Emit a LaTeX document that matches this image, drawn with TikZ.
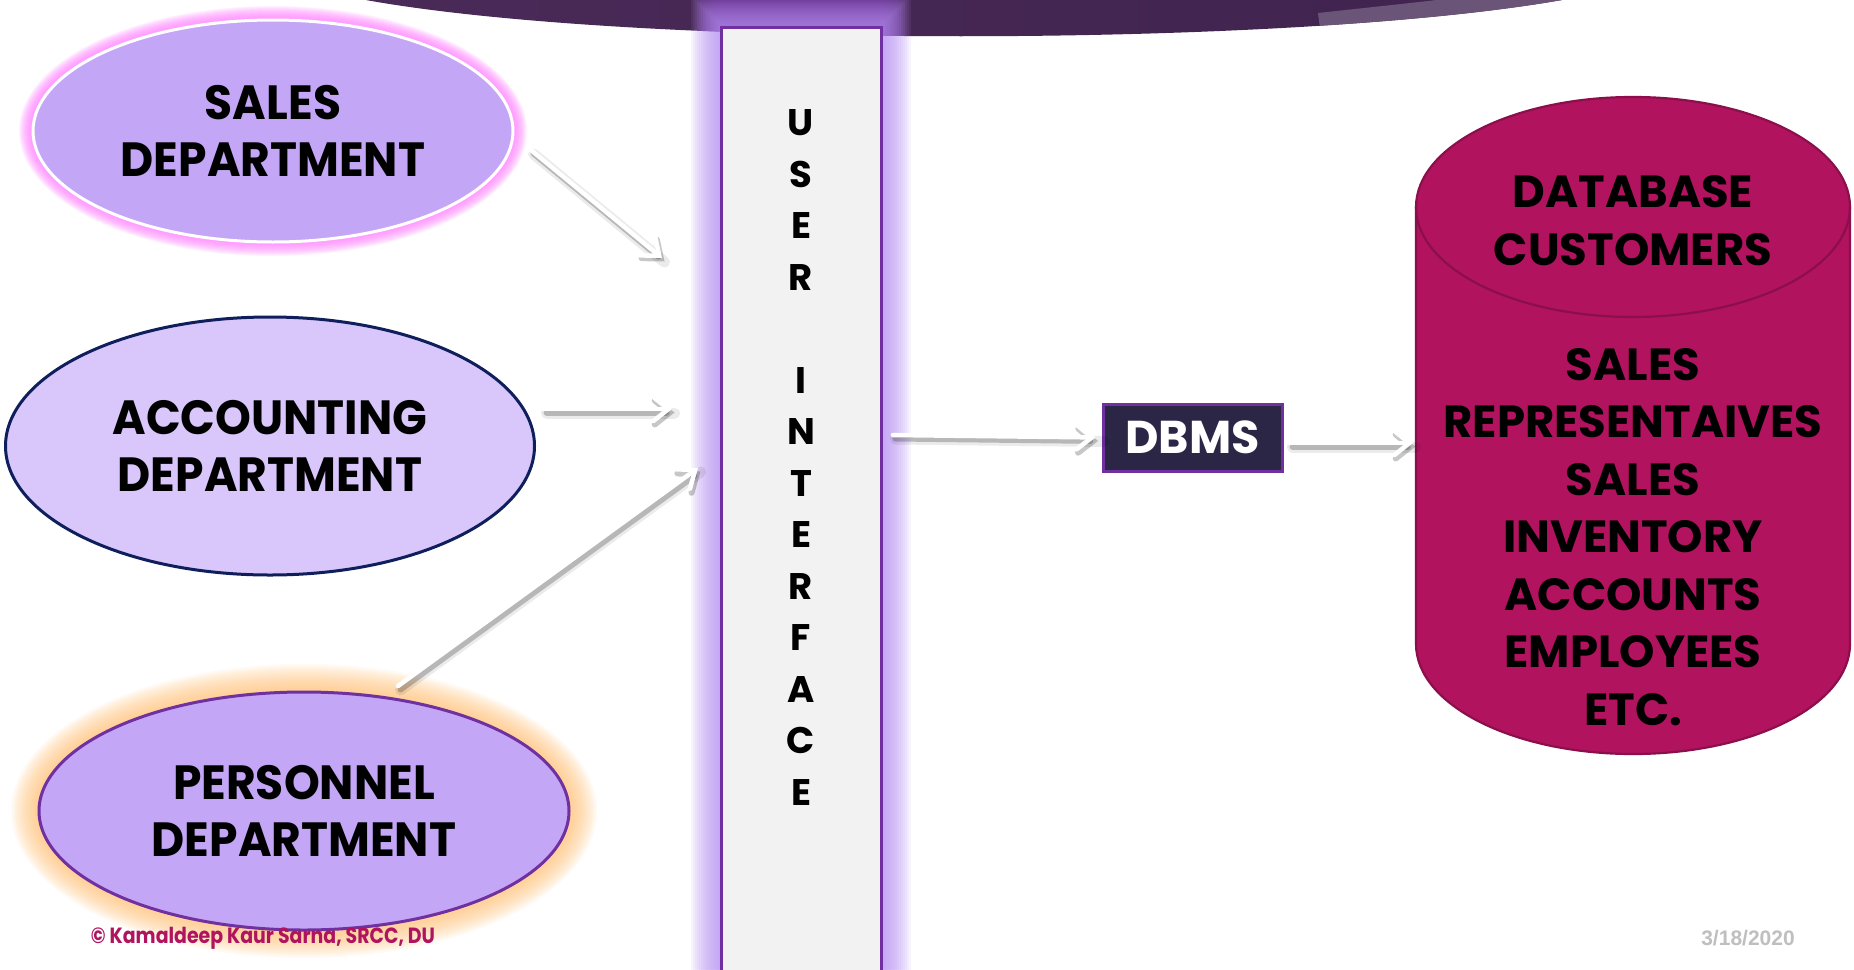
\documentclass[tikz,border=0pt]{standalone}
\usepackage{fontspec}
\usetikzlibrary{shapes.geometric,arrows.meta}
\newfontfamily\deptfont[FakeStretch=0.95]{Poppins}
\newfontfamily\dbfont{Poppins}
\newfontfamily\footfont[FakeStretch=0.86]{Poppins}
\newfontfamily\datefont{Liberation Sans}

\definecolor{bannerL}{HTML}{4A2A58}
\definecolor{bannerM}{HTML}{6E3262}
\definecolor{bannerR}{HTML}{40234E}
\definecolor{bannerLight}{HTML}{6A5579}
\definecolor{lav}{HTML}{C3A6F5}
\definecolor{lavlight}{HTML}{D9C6FB}
\definecolor{navy}{HTML}{0F1F5C}
\definecolor{uipurple}{HTML}{7030A0}
\definecolor{uigray}{HTML}{F2F2F2}
\definecolor{glowlav}{HTML}{B890F5}
\definecolor{glowpink}{HTML}{FF80FF}
\definecolor{gloworange}{HTML}{FFC070}
\definecolor{dbmsfill}{HTML}{2B2546}
\definecolor{dbfill}{HTML}{B2135F}
\definecolor{dbedge}{HTML}{8A0F4B}
\definecolor{footred}{HTML}{B0145E}
\definecolor{dategray}{HTML}{BFBFBF}

\begin{document}
\begin{tikzpicture}[x=1pt,y=-1pt,
  dept/.style={ellipse, inner sep=0pt, line width=3pt, align=center,
    font=\deptfont\bfseries\fontsize{48}{57}\selectfont},
  uibar/.style={rectangle, draw=uipurple, fill=uigray, line width=3pt, inner sep=0pt},
  uiletters/.style={align=center, inner sep=0pt,
    font=\dbfont\bfseries\fontsize{37}{51.5}\selectfont},
  dbmsbox/.style={rectangle, draw=uipurple, fill=dbmsfill, line width=3pt,
    text=white, inner sep=0pt, font=\dbfont\bfseries\fontsize{46}{50}\selectfont},
  dblabel/.style={align=center, inner sep=0pt,
    font=\dbfont\bfseries\fontsize{45}{57.5}\selectfont},
  flow/.style={draw=white, line width=4.5pt, line cap=round,
    -{Straight Barb[length=15pt,width=24pt,line cap=round]}},
  flowshade/.style={draw=black, opacity=0.22, line width=6pt, line cap=round,
    -{Straight Barb[length=15pt,width=24pt,line cap=round]},
    transform canvas={shift={(2.5pt,-3.5pt)}}},
  flowhaze/.style={draw=black, opacity=0.08, line width=11pt, line cap=round,
    transform canvas={shift={(2.5pt,-4pt)}}},
]
\useasboundingbox (0,0) rectangle (1854,969);
\fill[white] (0,0) rectangle (1854,969);

% ---------- title banner ----------
\def\bannerpath{(355,-2) .. controls (620,49) and (1300,49) .. (1573,-2) -- cycle}
\shade[left color=bannerL, middle color=bannerM, right color=bannerR] \bannerpath;
\begin{scope}
  \clip \bannerpath;
  \fill[bannerLight] (1318,13) .. controls (1420,2) .. (1540,-12) -- (1620,-12)
        -- (1620,60) -- (1324,60) -- cycle;
  \foreach \d in {3,6,...,24}
    \fill[uipurple, opacity=0.14] (721-\d,-10) rectangle (881+\d,60);
\end{scope}

% ---------- user interface bar ----------
\foreach \d in {2,4,...,30}
  \fill[glowlav, opacity=0.09] (721-\d,26-\d) rectangle (881+\d,990);
\node[uibar, minimum width=160pt, minimum height=970pt, anchor=north] (ui) at (801,26) {};
\node[uiletters] (uitext) at (801,457.5)
  {U\\S\\E\\R\\[51.5pt]I\\N\\T\\E\\R\\F\\A\\C\\E};

% ---------- departments ----------
\foreach \d in {1,2,...,14}
  \fill[glowpink, opacity=0.1] (273,131) ellipse [x radius=240+\d, y radius=111+\d];
\node[dept, fill=lav, draw=white, minimum width=480pt, minimum height=222pt]
  (sales) at (273,131) {SALES\\DEPARTMENT};

\node[dept, fill=lavlight, draw=navy, minimum width=529pt, minimum height=258pt]
  (accounting) at (270,446) {ACCOUNTING\\DEPARTMENT};

\foreach \d in {2,4,...,28}
  \fill[gloworange, opacity=0.08] (304,811) ellipse [x radius=265+\d, y radius=119+\d];
\node[dept, fill=lav, draw=uipurple, minimum width=530pt, minimum height=238pt]
  (personnel) at (304,811) {PERSONNEL\\DEPARTMENT};

% ---------- DBMS ----------
\node[dbmsbox, minimum width=179pt, minimum height=67pt] (dbms) at (1192.5,437.5) {DBMS};

% ---------- database cylinder ----------
\fill[dbfill] (1416,207) -- (1416,644)
  arc[start angle=180, end angle=0, x radius=217, y radius=110] -- (1850,207)
  arc[start angle=0, end angle=-180, x radius=217, y radius=110] -- cycle;
\draw[dbedge, line width=2.2pt] (1416,207) -- (1416,644)
  arc[start angle=180, end angle=0, x radius=217, y radius=110] -- (1850,207)
  arc[start angle=0, end angle=-180, x radius=217, y radius=110] -- cycle;
\draw[dbedge, line width=2.2pt] (1416,207)
  arc[start angle=180, end angle=0, x radius=217, y radius=110];
\node[dblabel] (db) at (1633,450.5)
  {DATABASE\\CUSTOMERS\\[57.5pt]SALES\\REPRESENTAIVES\\SALES\\INVENTORY\\ACCOUNTS\\EMPLOYEES\\ETC.};
\coordinate (dbin) at (1413,443);

% ---------- connectors ----------
\coordinate (s1) at (531,150);  \coordinate (s2) at (662,258);
\coordinate (a1) at (544,409);  \coordinate (a2) at (672,409);
\coordinate (p1) at (398,686);  \coordinate (p2) at (698,468);
\coordinate (u1) at (893,435);
\coordinate (d1) at (1290,443);

\foreach \from/\to in {s1/s2, a1/a2, p1/p2} {
  \draw[flowhaze] (\from) -- (\to);
  \draw[flowshade] (\from) -- (\to);
  \draw[flow] (\from) -- (\to);
}
\draw[flowhaze] (u1) -- (dbms.west);
\draw[flowshade, shorten >=6pt] (u1) -- (dbms.west);
\draw[flow, shorten >=6pt] (u1) -- (dbms.west);
\draw[flowhaze] (d1) -- (dbin);
\draw[flowshade] (d1) -- (dbin);
\draw[flow] (d1) -- (dbin);

% ---------- footer ----------
\node[text=footred, font=\footfont\bfseries\fontsize{22}{26}\selectfont, inner sep=0pt]
  (credit) at (263,938) {© Kamaldeep Kaur Sarna, SRCC, DU};
\node[text=dategray, font=\datefont\bfseries\fontsize{21}{24}\selectfont, inner sep=0pt]
  (date) at (1748,938) {3/18/2020};
\end{tikzpicture}
\end{document}
